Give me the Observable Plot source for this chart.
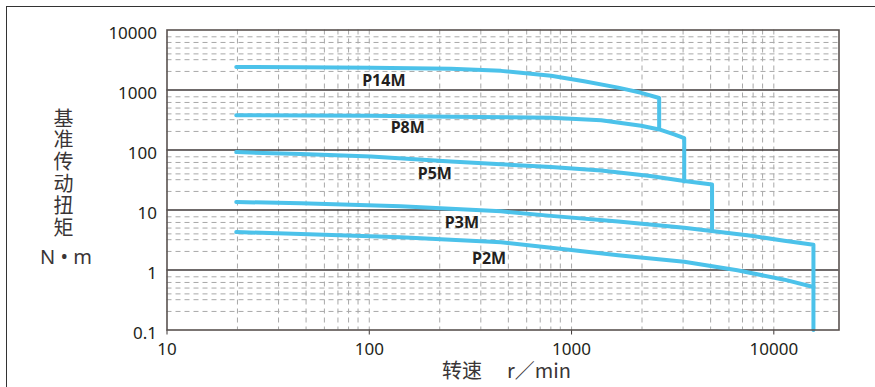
<!DOCTYPE html>
<html>
<head>
<meta charset="utf-8">
<script src="https://cdn.jsdelivr.net/npm/d3@7"></script>
<script src="https://cdn.jsdelivr.net/npm/@observablehq/plot@0.6"></script>
<style>
  html, body { margin: 0; padding: 0; background: #fff; }
  #wrap { position: relative; width: 875px; height: 387px; overflow: hidden; background: #fff; }
  #wrap svg { position: absolute; left: 0; top: 0; }
  .outer { position: absolute; left: 6px; top: 6px; width: 900px; height: 400px;
           border-top: 1.5px solid #333; border-left: 1.5px solid #333; pointer-events: none; }
  .ylab { position: absolute; left: 52px; top: 108px; writing-mode: vertical-rl; text-orientation: upright;
          font-family: "Noto Sans CJK SC", sans-serif; font-size: 20px; line-height: 22px; letter-spacing: 1.8px;
          color: #3a3536; white-space: nowrap; }
  .unit { position: absolute; left: 36px; top: 246px; width: 60px; text-align: center;
          font-family: "Noto Sans", sans-serif; font-size: 20px; line-height: 22px; color: #3a3536; }
  .xlab { position: absolute; top: 358px; font-size: 20px; line-height: 24px; color: #3a3536;
          font-family: "Noto Sans CJK SC", sans-serif; white-space: nowrap; }
</style>
</head>
<body>
<div id="wrap">
  <div class="outer"></div>
  <div class="ylab">基准传动扭矩</div>
  <div class="unit">N • m</div>
  <div class="xlab" style="left:442px">转速</div>
  <div class="xlab" style="left:507px">r／min</div>
</div>
<script>
// ---- data ----
const seriesNames = ["P14M", "P8M", "P5M", "P3M", "P2M"];
const p14mX = [22, 46, 102, 253, 448, 792, 1153, 1700, 2208, 2711, 2711];
const p14mY = [2427, 2400, 2338, 2250, 2084, 1722, 1396, 1096, 898, 736, 231];
const p8mX  = [22, 102, 253, 792, 1400, 2208, 2711, 3215, 3606, 3606];
const p8mY  = [380, 373, 359, 345, 314, 254, 220, 182, 158, 29.9];
const p5mX  = [22, 46, 102, 253, 792, 1400, 2450, 3606, 4950, 4950];
const p5mY  = [92.3, 85.5, 77.7, 64.2, 52.0, 45.5, 36.8, 30.4, 26.6, 4.67];
const p3mX  = [22, 46, 143, 448, 792, 1700, 3606, 7740, 11270, 15700, 15700];
const p3mY  = [13.6, 12.9, 11.5, 9.49, 7.98, 6.42, 5.04, 3.72, 3.07, 2.63, 0.1];
const p2mX  = [22, 46, 143, 448, 792, 1700, 3606, 6600, 11270, 15700];
const p2mY  = [4.28, 4.0, 3.51, 2.90, 2.35, 1.76, 1.37, 0.99, 0.69, 0.52];

const labelX = [118, 155, 211, 287, 391];
const labelY = [1413, 231, 39.8, 6.18, 1.54];

const xTicks = [10, 100, 1000, 10000];
const yTicks = [0.1, 1, 10, 100, 1000, 10000];
const yMajorLines = [1, 10, 100, 1000];
const xGridMultipliers = [1, 2.23, 3.56, 4.87, 6, 7, 7.9, 8.8];
const yGridMultipliers = [2.04, 3.2, 4, 5, 6.2, 7.7];
const xDomain = [10, 21000];
const yDomain = [0.1, 10000];

// ---- build tables ----
const xs = [p14mX, p8mX, p5mX, p3mX, p2mX];
const ys = [p14mY, p8mY, p5mY, p3mY, p2mY];
const curves = seriesNames.flatMap((name, i) => xs[i].map((x, j) => ({name, x, y: ys[i][j]})));
const labels = seriesNames.map((name, i) => ({name, x: labelX[i], y: labelY[i]}));
const xGrid = xTicks.flatMap(d => xGridMultipliers.map(m => d * m)).filter(v => v > xDomain[0] && v < xDomain[1]);
const yGrid = yTicks.slice(0, -1).flatMap(d => yGridMultipliers.map(m => d * m));

const chart = Plot.plot({
  width: 875,
  height: 387,
  marginTop: 29.5,
  marginBottom: 57.5,
  marginLeft: 166.5,
  marginRight: 36.5,
  style: {fontFamily: "'Noto Sans', sans-serif", fontSize: "17px", color: "#231f20", background: "transparent"},
  x: {type: "log", domain: xDomain},
  y: {type: "log", domain: yDomain},
  marks: [
    Plot.ruleX(xGrid, {stroke: "#a8a8a8", strokeWidth: 1, strokeDasharray: "5,4"}),
    Plot.ruleY(yGrid, {stroke: "#a8a8a8", strokeWidth: 1, strokeDasharray: "5,4"}),
    Plot.ruleY(yMajorLines, {stroke: "#3f3838", strokeWidth: 1.4}),
    Plot.axisY({ticks: yTicks, tickFormat: d => String(d), tickSize: 0, tickPadding: 10, dy: 4, label: null}),
    Plot.axisX({ticks: xTicks, tickFormat: d => String(d), tickSize: 5, tickPadding: 7.5, label: null, stroke: "#3f3838"}),
    Plot.line(curves, {x: "x", y: "y", z: "name", stroke: "#4cc2ea", strokeWidth: 4, strokeLinejoin: "round", curve: "linear"}),
    Plot.text(labels, {x: "x", y: "y", text: "name", fontWeight: "bold", fontSize: 16, fill: "#231f20"}),
    Plot.frame({stroke: "#5a5350", strokeWidth: 1.6})
  ]
});
document.getElementById("wrap").prepend(chart);
</script>
</body>
</html>
